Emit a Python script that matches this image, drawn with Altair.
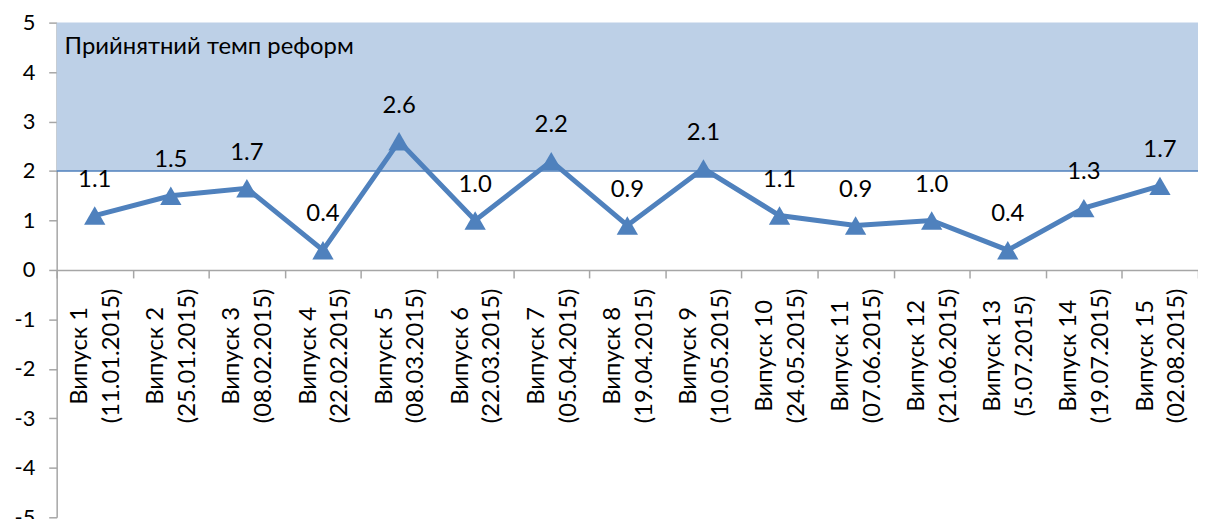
import altair as alt
import pandas as pd

releases = ["Випуск 1", "Випуск 2", "Випуск 3", "Випуск 4", "Випуск 5",
            "Випуск 6", "Випуск 7", "Випуск 8", "Випуск 9", "Випуск 10",
            "Випуск 11", "Випуск 12", "Випуск 13", "Випуск 14", "Випуск 15"]
dates = ["11.01.2015", "25.01.2015", "08.02.2015", "22.02.2015", "08.03.2015",
         "22.03.2015", "05.04.2015", "19.04.2015", "10.05.2015", "24.05.2015",
         "07.06.2015", "21.06.2015", "5.07.2015", "19.07.2015", "02.08.2015"]
values = [1.1, 1.5, 1.65, 0.4, 2.6, 1.0, 2.2, 0.9, 2.05, 1.1, 0.9, 1.0, 0.4, 1.25, 1.7]
y_ticks = [-5, -4, -3, -2, -1, 0, 1, 2, 3, 4, 5]
band_low, band_high = 2, 5
band_text = "Прийнятний темп реформ"

cats = [f"{r}|({d})" for r, d in zip(releases, dates)]
df = pd.DataFrame({"cat": cats, "value": values})

W, H = 1149, 498
FONT = "Lato"
BLUE = "#4F81BD"
GRAY = "#A6A6A6"

x = alt.X("cat:N", sort=cats,
          scale=alt.Scale(paddingInner=0, paddingOuter=0),
          axis=alt.Axis(title=None, orient="bottom", offset=-H / 2,
                        labelAngle=270, labelAlign="center", labelBaseline="middle",
                        labelExpr="split(datum.label, '|')",
                        labelFont=FONT, labelFontSize=24, labelLineHeight=32,
                        labelColor="black", labelPadding=78, labelLimit=400,
                        labelOffset=-15,
                        labelOverlap=False, labelBound=False, labelFlush=False,
                        tickBand="extent", tickSize=8, tickColor=GRAY,
                        domainColor=GRAY, domainWidth=1.5, tickWidth=1.5, grid=False))
y = alt.Y("value:Q",
          scale=alt.Scale(domain=[-5, 5], nice=False, zero=False),
          axis=alt.Axis(title=None, values=y_ticks, grid=False,
                        labelExpr="'' + datum.value",
                        labelFont=FONT, labelFontSize=22, labelColor="black",
                        labelPadding=14, tickSize=8, tickColor=GRAY, tickWidth=1.5,
                        domainColor=GRAY, domainWidth=1.5))

one = alt.Data(values=[{}])

band = alt.Chart(one).mark_rect(color="#BDD0E7").encode(
    x=alt.value(0), x2=alt.value(W),
    y=alt.datum(band_high), y2=alt.datum(band_low))

rule = alt.Chart(one).mark_rule(color=BLUE, strokeWidth=1.5).encode(
    y=alt.datum(band_low))

base = alt.Chart(df).encode(x=x, y=y)

line = base.mark_line(color=BLUE, strokeWidth=5,
                      point=alt.OverlayMarkDef(shape="triangle-up", size=460,
                                               filled=True, color=BLUE, opacity=1))

labels = base.transform_calculate(
    label="format(round(datum.value * 10) / 10, '.1f')"
).mark_text(dy=-36, font=FONT, fontSize=24, color="black").encode(text="label:N")

title_txt = alt.Chart(one).mark_text(align="left", baseline="middle", font=FONT,
                                      fontSize=24, color="black").encode(
    x=alt.value(8), y=alt.datum(4.5), text=alt.value(band_text))

chart = alt.layer(band, rule, line, labels, title_txt).properties(
    width=W, height=H,
    autosize=alt.AutoSizeParams(type="none"),
    padding={"left": 49, "top": 13, "right": 0, "bottom": 0},
).configure_view(stroke=None)

chart.save("out.html", embed_options={"renderer": "svg", "actions": False})
